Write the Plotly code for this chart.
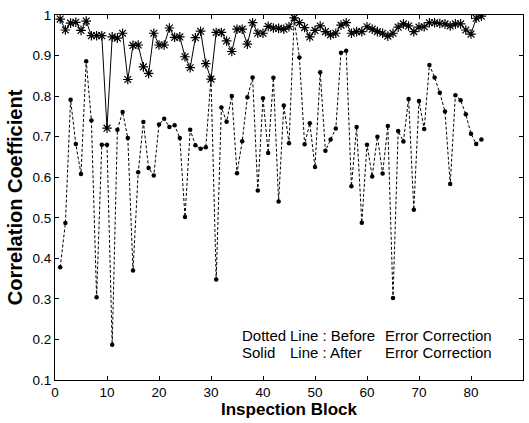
import plotly.graph_objects as go

blocks = list(range(1, 83))

before_correction = [
    0.378, 0.487, 0.791, 0.682, 0.608, 0.886, 0.740, 0.304, 0.680, 0.680,
    0.187, 0.717, 0.761, 0.697, 0.370, 0.612, 0.736, 0.623, 0.604, 0.730,
    0.744, 0.724, 0.728, 0.697, 0.502, 0.717, 0.679, 0.670, 0.674, 0.845,
    0.348, 0.772, 0.737, 0.800, 0.610, 0.689, 0.797, 0.846, 0.567, 0.795,
    0.660, 0.845, 0.540, 0.777, 0.684, 0.990, 0.895, 0.681, 0.733, 0.625,
    0.859, 0.665, 0.693, 0.720, 0.907, 0.912, 0.578, 0.724, 0.488, 0.680,
    0.602, 0.700, 0.609, 0.726, 0.302, 0.714, 0.688, 0.793, 0.520, 0.788,
    0.719, 0.877, 0.846, 0.808, 0.762, 0.583, 0.802, 0.790, 0.755, 0.707,
    0.682, 0.693,
]

after_correction = [
    0.990, 0.963, 0.980, 0.982, 0.962, 0.985, 0.949, 0.949, 0.949, 0.721,
    0.946, 0.943, 0.955, 0.841, 0.925, 0.926, 0.872, 0.856, 0.955, 0.926,
    0.926, 0.968, 0.945, 0.946, 0.897, 0.870, 0.944, 0.960, 0.880, 0.842,
    0.957, 0.957, 0.936, 0.910, 0.965, 0.965, 0.928, 0.981, 0.955, 0.955,
    0.972, 0.968, 0.967, 0.965, 0.971, 0.993, 0.981, 0.969, 0.946, 0.962,
    0.973, 0.959, 0.951, 0.955, 0.975, 0.981, 0.955, 0.959, 0.959, 0.971,
    0.965, 0.959, 0.955, 0.948, 0.955, 0.970, 0.978, 0.973, 0.959, 0.970,
    0.971, 0.981, 0.981, 0.979, 0.978, 0.973, 0.978, 0.978, 0.963, 0.953,
    0.992, 0.997,
]

x_ticks = [0, 10, 20, 30, 40, 50, 60, 70, 80, 90]
y_ticks = [0.1, 0.2, 0.3, 0.4, 0.5, 0.6, 0.7, 0.8, 0.9, 1.0]
y_tick_labels = ["0.1", "0.2", "0.3", "0.4", "0.5", "0.6", "0.7", "0.8", "0.9", "1"]

FONT = "Liberation Sans, Arial, sans-serif"

fig = go.Figure()
fig.add_trace(go.Scatter(
    x=blocks, y=before_correction, mode="lines+markers",
    line=dict(color="black", width=1, dash="3px,2px"),
    marker=dict(symbol="circle", size=4.5, color="black"),
    showlegend=False,
))
fig.add_trace(go.Scatter(
    x=blocks, y=after_correction, mode="lines+markers",
    line=dict(color="black", width=1),
    marker=dict(symbol="asterisk-open", size=8, color="black",
                line=dict(color="black", width=1.2)),
    showlegend=False,
))

axis_common = dict(
    showline=True, linecolor="black", linewidth=1, mirror="ticks",
    ticks="inside", ticklen=4, tickcolor="black", tickwidth=1,
    showgrid=False, zeroline=False,
    tickfont=dict(family=FONT, size=13.5, color="black"),
)

fig.update_xaxes(range=[0, 90], tickvals=x_ticks,
                 title=dict(text="<b>Inspection Block</b>", standoff=3,
                            font=dict(family=FONT, size=17, color="black")),
                 **axis_common)
fig.update_yaxes(range=[0.1, 1.0], tickvals=y_ticks, ticktext=y_tick_labels,
                 title=dict(text="<b>Correlation Coefficient</b>", standoff=4,
                            font=dict(family=FONT, size=20, color="black")),
                 **axis_common)

ann_font = dict(family=FONT, size=15, color="black")
rows = [
    (0.123, ["Dotted", "Line : Before", "Error Correction"]),
    (0.075, ["Solid", "Line : After", "Error Correction"]),
]
cols_x = [0.400, 0.503, 0.706]
annotations = []
for ypos, parts in rows:
    for xpos, txt in zip(cols_x, parts):
        annotations.append(dict(
            x=xpos, y=ypos, xref="paper", yref="paper", text=txt,
            showarrow=False, xanchor="left", yanchor="middle", font=ann_font,
            xshift=-2,
        ))

fig.update_layout(
    width=529, height=423,
    margin=dict(l=55, r=6, t=15, b=43),
    plot_bgcolor="white", paper_bgcolor="white",
    annotations=annotations,
    font=dict(family=FONT, color="black"),
)

fig.write_html("out.html", config={"displayModeBar": False},
               post_script="document.body.style.margin='0';")
